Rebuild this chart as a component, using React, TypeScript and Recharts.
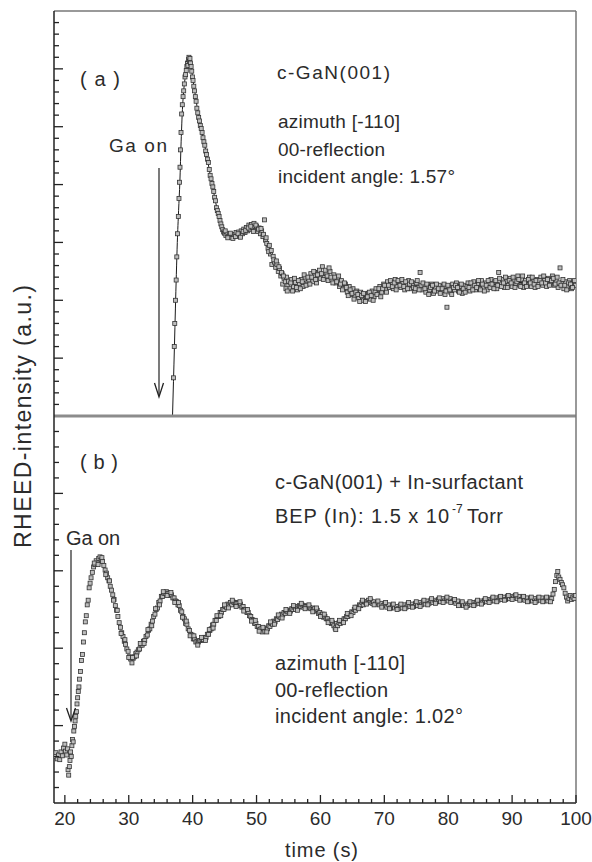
import React from "react";
import { ComposedChart, Scatter, Line, XAxis, YAxis } from "recharts";

// (a) c-GaN(001): measured RHEED points, [time (s), intensity (a.u.)]
const A_POINTS: [number, number][] = [
  [37.0, 0.66], [37.12, 1.2], [37.2, 1.6], [37.32, 2.0], [37.42, 2.35], [37.52, 2.75], [37.64, 3.15],
  [37.76, 3.45], [37.86, 3.76], [37.95, 4.04], [38.02, 4.3], [38.1, 4.6], [38.18, 4.9], [38.28, 5.22],
  [38.38, 5.38], [38.5, 5.52], [38.6, 5.62], [38.7, 5.74], [38.8, 5.86], [38.9, 5.9], [39.0, 5.97],
  [39.1, 6.04], [39.18, 6.1], [39.26, 6.06], [39.34, 6.16], [39.42, 6.2], [39.5, 6.13], [39.58, 6.18],
  [39.66, 6.1], [39.76, 6.04], [39.86, 5.96], [39.96, 5.86], [40.06, 5.8], [40.18, 5.7], [40.3, 5.62],
  [40.42, 5.52], [40.54, 5.44], [40.66, 5.32], [40.8, 5.24], [40.94, 5.16], [41.06, 5.1], [41.2, 5.02],
  [41.34, 4.97], [41.48, 4.9], [41.62, 4.81], [41.76, 4.74], [41.9, 4.68], [42.04, 4.58], [42.18, 4.52],
  [42.32, 4.44], [42.46, 4.38], [42.6, 4.26], [42.74, 4.16], [42.88, 4.1], [43.02, 4.02], [43.16, 3.96],
  [43.3, 3.88], [43.44, 3.78], [43.58, 3.72], [43.72, 3.6], [43.86, 3.55], [44.0, 3.5], [44.14, 3.45],
  [44.28, 3.38], [44.42, 3.32], [44.56, 3.27], [44.7, 3.22], [44.85, 3.18],
  [45.0, 3.16], [45.2, 3.12], [45.4, 3.15], [45.6, 3.1], [45.8, 3.13], [46.0, 3.09], [46.2, 3.14],
  [46.4, 3.1], [46.6, 3.13], [46.8, 3.17], [47.0, 3.11], [47.2, 3.18], [47.4, 3.13], [47.6, 3.2],
  [47.8, 3.15], [48.0, 3.23], [48.2, 3.17], [48.4, 3.26], [48.6, 3.2], [48.8, 3.3], [49.0, 3.22],
  [49.2, 3.31], [49.4, 3.25], [49.6, 3.33], [49.8, 3.21], [50.0, 3.28], [50.2, 3.19], [50.4, 3.25],
  [50.6, 3.15], [50.8, 3.2], [51.0, 3.1], [51.25, 3.39], [51.4, 3.04], [51.6, 2.98], [51.8, 2.9],
  [52.0, 2.95], [52.2, 2.8], [52.4, 2.62], [52.6, 2.76], [52.8, 2.66], [53.0, 2.57], [53.2, 2.62],
  [53.4, 2.5], [53.6, 2.55], [53.8, 2.42], [54.0, 2.46], [54.1, 2.28], [54.3, 2.38], [54.5, 2.32],
  [54.7, 2.4], [54.9, 2.25], [55.0, 2.33],
  [55.2, 2.2], [55.5, 2.36], [55.8, 2.24], [56.1, 2.31], [56.4, 2.18], [56.7, 2.29], [57.0, 2.36],
  [57.3, 2.24], [57.6, 2.4], [57.9, 2.28], [58.2, 2.35], [58.5, 2.46], [58.8, 2.32], [59.1, 2.42],
  [59.4, 2.3], [59.7, 2.48], [60.0, 2.38], [60.3, 2.58], [60.6, 2.4], [60.9, 2.46], [61.2, 2.34],
  [61.5, 2.5], [61.8, 2.36], [62.1, 2.44], [62.4, 2.3], [62.7, 2.38], [63.0, 2.24], [63.3, 2.34],
  [63.6, 2.2], [63.9, 2.28], [64.2, 2.14], [64.5, 2.24], [64.8, 2.1], [65.1, 2.2], [65.4, 2.08],
  [65.7, 2.16], [66.0, 2.04], [66.3, 2.14], [66.6, 2.0], [66.9, 2.1], [67.2, 2.04], [67.5, 2.12],
  [67.8, 2.02], [68.1, 2.16], [68.4, 2.06], [68.7, 2.2], [69.0, 2.12], [69.3, 2.24], [69.6, 2.14],
  [69.9, 2.28], [70.2, 2.18], [70.5, 2.32], [70.8, 2.22], [71.1, 2.3], [71.4, 2.2], [71.7, 2.36],
  [72.0, 2.24], [72.3, 2.32], [72.6, 2.22], [72.9, 2.3], [73.2, 2.18], [73.5, 2.28], [73.8, 2.34],
  [74.1, 2.2], [74.4, 2.26], [74.7, 2.16], [75.0, 2.3], [75.3, 2.22], [75.6, 2.48], [75.9, 2.18],
  [76.2, 2.26], [76.5, 2.14], [76.8, 2.24], [77.1, 2.18], [77.4, 2.28], [77.7, 2.12], [78.0, 2.22],
  [78.3, 2.16], [78.6, 2.26], [78.9, 2.14], [79.2, 2.24], [79.5, 2.1], [79.8, 1.88], [80.1, 2.22],
  [80.4, 2.14], [80.7, 2.28], [81.0, 2.18], [81.3, 2.3], [81.6, 2.16], [81.9, 2.24], [82.2, 2.12],
  [82.5, 2.26], [82.8, 2.18], [83.1, 2.3], [83.4, 2.16], [83.7, 2.24], [84.0, 2.32], [84.3, 2.18],
  [84.6, 2.28], [84.9, 2.2], [85.2, 2.34], [85.5, 2.22], [85.8, 2.3], [86.1, 2.18], [86.4, 2.28],
  [86.7, 2.36], [87.0, 2.24], [87.3, 2.32], [87.6, 2.2], [87.9, 2.48], [88.2, 2.28], [88.5, 2.36],
  [88.8, 2.22], [89.1, 2.32], [89.4, 2.26], [89.7, 2.38], [90.0, 2.24], [90.3, 2.34], [90.6, 2.28],
  [90.9, 2.42], [91.2, 2.26], [91.5, 2.36], [91.8, 2.22], [92.1, 2.34], [92.4, 2.26], [92.7, 2.4],
  [93.0, 2.24], [93.3, 2.32], [93.6, 2.22], [93.9, 2.36], [94.2, 2.28], [94.5, 2.4], [94.8, 2.26],
  [95.1, 2.34], [95.4, 2.24], [95.7, 2.38], [96.0, 2.3], [96.3, 2.42], [96.6, 2.26], [96.9, 2.34],
  [97.2, 2.22], [97.5, 2.56], [97.8, 2.3], [98.1, 2.2], [98.4, 2.32], [98.7, 2.24], [99.0, 2.34],
  [99.3, 2.2], [99.6, 2.3], [99.9, 2.26],
];

// (a) second row of points read between the ones above (the scatter band is about two markers thick)
const A_POINTS_2: [number, number][] = [
  [45.1, 3.2], [45.5, 3.08], [45.9, 3.16], [46.3, 3.07], [46.7, 3.1], [47.1, 3.15], [47.5, 3.09],
  [47.9, 3.19], [48.3, 3.21], [48.7, 3.25], [49.1, 3.28], [49.5, 3.19], [49.9, 3.3], [50.3, 3.23],
  [50.7, 3.24], [51.1, 3.14], [51.5, 3.08], [51.9, 2.84], [52.3, 2.86], [52.7, 2.7], [53.1, 2.68],
  [53.5, 2.58], [53.9, 2.48], [54.2, 2.42], [54.6, 2.2], [54.8, 2.16],
  [55.35, 2.3], [55.65, 2.16], [55.95, 2.38], [56.25, 2.22], [56.55, 2.34], [56.85, 2.2], [57.15, 2.32],
  [57.45, 2.44], [57.75, 2.26], [58.05, 2.4], [58.35, 2.28], [58.65, 2.4], [58.95, 2.5], [59.25, 2.36],
  [59.55, 2.44], [59.85, 2.52], [60.15, 2.46], [60.45, 2.36], [60.75, 2.52], [61.05, 2.42], [61.35, 2.56],
  [61.65, 2.4], [61.95, 2.3], [62.25, 2.4], [62.55, 2.32], [62.85, 2.42], [63.15, 2.28], [63.45, 2.18],
  [63.75, 2.3], [64.05, 2.22], [64.35, 2.08], [64.65, 2.18], [64.95, 2.12], [65.25, 2.02], [65.55, 2.14],
  [65.85, 2.1], [66.15, 1.98], [66.45, 2.08], [66.75, 2.12], [67.05, 1.98], [67.35, 2.06], [67.65, 2.14],
  [67.95, 2.08], [68.25, 2.0], [68.55, 2.14], [68.85, 2.1], [69.15, 2.2], [69.45, 2.06], [69.75, 2.2],
  [70.05, 2.26], [70.35, 2.14], [70.65, 2.26], [70.95, 2.34], [71.25, 2.24], [71.55, 2.3], [71.85, 2.18],
  [72.15, 2.34], [72.45, 2.26], [72.75, 2.36], [73.05, 2.24], [73.35, 2.32], [73.65, 2.2], [73.95, 2.28],
  [74.25, 2.32], [74.55, 2.22], [74.85, 2.2], [75.15, 2.34], [75.45, 2.18], [75.75, 2.26], [76.05, 2.3],
  [76.35, 2.2], [76.65, 2.28], [76.95, 2.1], [77.25, 2.22], [77.55, 2.26], [77.85, 2.16], [78.15, 2.28],
  [78.45, 2.2], [78.75, 2.12], [79.05, 2.2], [79.35, 2.28], [79.65, 2.16], [79.95, 2.26], [80.25, 2.18],
  [80.55, 2.1], [80.85, 2.22], [81.15, 2.26], [81.45, 2.22], [81.75, 2.14], [82.05, 2.28], [82.35, 2.2],
  [82.65, 2.14], [82.95, 2.24], [83.25, 2.22], [83.55, 2.3], [83.85, 2.18], [84.15, 2.26], [84.45, 2.22],
  [84.75, 2.34], [85.05, 2.18], [85.35, 2.28], [85.65, 2.16], [85.95, 2.26], [86.25, 2.34], [86.55, 2.22],
  [86.85, 2.28], [87.15, 2.2], [87.45, 2.34], [87.75, 2.26], [88.05, 2.38], [88.35, 2.24], [88.65, 2.3],
  [88.95, 2.4], [89.25, 2.22], [89.55, 2.34], [89.85, 2.3], [90.15, 2.4], [90.45, 2.22], [90.75, 2.32],
  [91.05, 2.36], [91.35, 2.24], [91.65, 2.42], [91.95, 2.3], [92.25, 2.24], [92.55, 2.36], [92.85, 2.3],
  [93.15, 2.4], [93.45, 2.28], [93.75, 2.34], [94.05, 2.24], [94.35, 2.34], [94.65, 2.3], [94.95, 2.42],
  [95.25, 2.3], [95.55, 2.36], [95.85, 2.26], [96.15, 2.34], [96.45, 2.38], [96.75, 2.28], [97.05, 2.4],
  [97.35, 2.3], [97.65, 2.26], [97.95, 2.36], [98.25, 2.26], [98.55, 2.18], [98.85, 2.3], [99.15, 2.28],
  [99.45, 2.22], [99.75, 2.34],
];

// (a) the smooth guide line through the points, starting on the axis where Ga is opened
const A_FIT: [number, number][] = [
  [36.85, 0], [37.0, 0.6], [37.15, 1.2], [37.3, 1.85], [37.45, 2.45], [37.6, 3.0], [37.8, 3.55],
  [38.0, 4.05], [38.2, 4.75], [38.4, 5.3], [38.6, 5.62], [38.9, 5.9], [39.2, 6.08], [39.45, 6.16],
  [39.7, 6.08], [40.0, 5.85], [40.4, 5.56], [40.9, 5.2], [41.5, 4.88], [42.1, 4.56], [42.7, 4.2],
  [43.3, 3.86], [43.9, 3.54], [44.5, 3.29], [45.2, 3.15], [46.0, 3.11], [47.0, 3.14], [48.0, 3.2],
  [49.0, 3.24], [50.0, 3.24], [50.8, 3.16], [51.5, 3.02], [52.2, 2.82], [53.0, 2.62], [53.8, 2.44],
  [54.6, 2.32], [55.5, 2.27], [57.0, 2.3], [58.5, 2.38], [60.0, 2.44], [61.5, 2.42], [63.0, 2.3],
  [64.5, 2.18], [66.0, 2.1], [67.5, 2.08], [69.0, 2.16], [70.5, 2.24], [72.0, 2.28], [74.0, 2.26],
  [76.0, 2.23], [78.0, 2.2], [80.0, 2.2], [82.0, 2.21], [84.0, 2.23], [86.0, 2.26], [88.0, 2.28],
  [90.0, 2.3], [92.0, 2.31], [94.0, 2.31], [96.0, 2.32], [98.0, 2.28], [100.0, 2.27],
];

// (b) c-GaN(001) + In-surfactant
const B_POINTS: [number, number][] = [
  [18.4, 0.6], [18.6, 0.65], [18.8, 0.57], [19.0, 0.62], [19.2, 0.56], [19.4, 0.66], [19.6, 0.61],
  [19.8, 0.71], [20.0, 0.76], [20.1, 0.67], [20.3, 0.62], [20.4, 0.7], [20.5, 0.43], [20.6, 0.36],
  [20.7, 0.47], [20.8, 0.55], [20.9, 0.66], [21.0, 0.6], [21.1, 0.74], [21.2, 0.82], [21.3, 0.79],
  [21.4, 0.93], [21.5, 0.99], [21.6, 1.06], [21.7, 1.12], [21.8, 1.18], [21.9, 1.28], [22.0, 1.36],
  [22.1, 1.44], [22.2, 1.5], [22.3, 1.6], [22.45, 1.7], [22.6, 1.84], [22.75, 1.92], [22.9, 2.08],
  [23.05, 2.2], [23.2, 2.34], [23.35, 2.42], [23.5, 2.56], [23.65, 2.62], [23.8, 2.78], [23.95, 2.84],
  [24.1, 2.91], [24.3, 2.98], [24.5, 3.05], [24.7, 3.08], [24.9, 3.13], [25.1, 3.1], [25.3, 3.16],
  [25.5, 3.18], [25.7, 3.14], [25.9, 3.12], [26.1, 3.07], [26.3, 3.01], [26.5, 2.97], [26.7, 2.91],
  [26.9, 2.87], [27.1, 2.8], [27.3, 2.75], [27.5, 2.69], [27.7, 2.63], [27.9, 2.55], [28.1, 2.49],
  [28.3, 2.41], [28.5, 2.33], [28.7, 2.27], [28.9, 2.2], [29.1, 2.15], [29.3, 2.09], [29.5, 2.05],
  [29.7, 1.99], [29.9, 1.96], [30.1, 1.89], [30.3, 1.86], [30.5, 1.81], [30.7, 1.87], [30.9, 1.89],
  [31.1, 1.93], [31.3, 1.95], [31.5, 1.98], [31.7, 1.99], [31.9, 2.04], [32.1, 2.04], [32.3, 2.09],
  [32.5, 2.1], [32.7, 2.15], [32.9, 2.17], [33.1, 2.23], [33.3, 2.25], [33.5, 2.31], [33.7, 2.35],
  [33.9, 2.41], [34.1, 2.44], [34.3, 2.5], [34.5, 2.52], [34.7, 2.59], [34.9, 2.61], [35.1, 2.67],
  [35.3, 2.67], [35.5, 2.71], [35.7, 2.71], [35.9, 2.73], [36.1, 2.71], [36.3, 2.71], [36.5, 2.68],
  [36.7, 2.69], [36.9, 2.65], [37.1, 2.65], [37.3, 2.61], [37.5, 2.6], [37.7, 2.56], [37.9, 2.55],
  [38.1, 2.49], [38.3, 2.47], [38.5, 2.41], [38.7, 2.38], [38.9, 2.32], [39.1, 2.31], [39.3, 2.25],
  [39.5, 2.23], [39.7, 2.18], [39.9, 2.17], [40.1, 2.12], [40.3, 2.12], [40.5, 2.08], [40.7, 2.09],
  [40.9, 2.08], [41.1, 2.1], [41.3, 2.1], [41.5, 2.11], [41.7, 2.11], [41.9, 2.14], [42.1, 2.14],
  [42.3, 2.18], [42.5, 2.18], [42.7, 2.23], [42.9, 2.25], [43.1, 2.3], [43.3, 2.31], [43.5, 2.36],
  [43.7, 2.36], [43.9, 2.41], [44.1, 2.41], [44.3, 2.46], [44.5, 2.46], [44.7, 2.5], [44.9, 2.5],
  [45.1, 2.54], [45.3, 2.53], [45.5, 2.57], [45.7, 2.56], [45.9, 2.59], [46.1, 2.56], [46.3, 2.6],
  [46.5, 2.59], [46.7, 2.59], [46.9, 2.58], [47.1, 2.58], [47.3, 2.55], [47.5, 2.57], [47.7, 2.53],
  [47.9, 2.54], [48.1, 2.5], [48.3, 2.5], [48.5, 2.46], [48.7, 2.46], [48.9, 2.42], [49.1, 2.41],
  [49.3, 2.37], [49.5, 2.36], [49.7, 2.32], [49.9, 2.32], [50.1, 2.28], [50.3, 2.28], [50.5, 2.24],
  [50.7, 2.25], [50.9, 2.21], [51.1, 2.25], [51.3, 2.22], [51.5, 2.26], [51.7, 2.25], [51.9, 2.29],
  [52.1, 2.28], [52.3, 2.32], [52.5, 2.31], [52.7, 2.35], [52.9, 2.34], [53.1, 2.38], [53.3, 2.37],
  [53.5, 2.41], [53.7, 2.4], [53.9, 2.44], [54.1, 2.43], [54.3, 2.46], [54.5, 2.45], [54.7, 2.48],
  [54.9, 2.47], [55.1, 2.49], [55.3, 2.48], [55.5, 2.51], [55.7, 2.5], [55.9, 2.53], [56.1, 2.5],
  [56.3, 2.54], [56.5, 2.52], [56.7, 2.55], [56.9, 2.54], [57.1, 2.56], [57.3, 2.53], [57.5, 2.55],
  [57.7, 2.54], [57.9, 2.54], [58.1, 2.52], [58.3, 2.53], [58.5, 2.51], [58.7, 2.52], [58.9, 2.5],
  [59.1, 2.51], [59.3, 2.48], [59.5, 2.49], [59.7, 2.45], [59.9, 2.46], [60.1, 2.43], [60.3, 2.44],
  [60.5, 2.4], [60.7, 2.41], [60.9, 2.38], [61.1, 2.38], [61.3, 2.35], [61.5, 2.35], [61.7, 2.32],
  [61.9, 2.33], [62.1, 2.29], [62.3, 2.26], [62.5, 2.32], [62.7, 2.29], [62.9, 2.33], [63.1, 2.32],
  [63.3, 2.35], [63.5, 2.35], [63.7, 2.38], [63.9, 2.38], [64.1, 2.41], [64.3, 2.41], [64.5, 2.44],
  [64.7, 2.44], [64.9, 2.47], [65.1, 2.46], [65.3, 2.5], [65.5, 2.49], [65.7, 2.53], [65.9, 2.52],
  [66.1, 2.56], [66.3, 2.55], [66.5, 2.59], [66.7, 2.56], [66.9, 2.6], [67.1, 2.59], [67.3, 2.6],
  [67.5, 2.62], [67.7, 2.59], [67.9, 2.61], [68.1, 2.58], [68.3, 2.6], [68.6, 2.57], [68.9, 2.59],
  [69.2, 2.56], [69.5, 2.58], [69.8, 2.55], [70.1, 2.57], [70.4, 2.53], [70.7, 2.56], [71.0, 2.52],
  [71.3, 2.55], [71.6, 2.52], [71.9, 2.54], [72.2, 2.51], [72.5, 2.55], [72.8, 2.52], [73.1, 2.56],
  [73.4, 2.53], [73.7, 2.57], [74.0, 2.54], [74.3, 2.57], [74.6, 2.54], [74.9, 2.58], [75.2, 2.55],
  [75.5, 2.59], [75.8, 2.56], [76.1, 2.6], [76.4, 2.57], [76.7, 2.61], [77.0, 2.58], [77.3, 2.62],
  [77.6, 2.59], [77.9, 2.62], [78.2, 2.6], [78.5, 2.63], [78.8, 2.6], [79.1, 2.64], [79.4, 2.61],
  [79.7, 2.64], [80.0, 2.61], [80.3, 2.64], [80.6, 2.6], [80.9, 2.62], [81.2, 2.58], [81.5, 2.61],
  [81.8, 2.56], [82.1, 2.58], [82.4, 2.55], [82.7, 2.57], [83.0, 2.55], [83.3, 2.58], [83.6, 2.56],
  [83.9, 2.59], [84.2, 2.57], [84.5, 2.6], [84.8, 2.58], [85.1, 2.61], [85.4, 2.59], [85.7, 2.62],
  [86.0, 2.6], [86.3, 2.63], [86.6, 2.61], [86.9, 2.64], [87.2, 2.61], [87.5, 2.65], [87.8, 2.62],
  [88.1, 2.66], [88.4, 2.63], [88.7, 2.66], [89.0, 2.63], [89.3, 2.67], [89.6, 2.64], [89.9, 2.67],
  [90.2, 2.65], [90.5, 2.68], [90.8, 2.64], [91.1, 2.67], [91.4, 2.63], [91.7, 2.66], [92.0, 2.62],
  [92.3, 2.65], [92.6, 2.61], [92.9, 2.64], [93.2, 2.61], [93.5, 2.64], [93.8, 2.61], [94.1, 2.65],
  [94.4, 2.62], [94.7, 2.65], [95.0, 2.61], [95.3, 2.64], [95.6, 2.61], [95.9, 2.65], [96.2, 2.64],
  [96.4, 2.7], [96.6, 2.76], [96.8, 2.86], [97.0, 2.94], [97.15, 2.99], [97.3, 2.92], [97.5, 2.89],
  [97.7, 2.85], [97.9, 2.82], [98.1, 2.78], [98.3, 2.71], [98.5, 2.66], [98.7, 2.61], [98.9, 2.64],
  [99.1, 2.68], [99.3, 2.63], [99.5, 2.66], [99.7, 2.64], [99.9, 2.68],
];

const B_POINTS_2: [number, number][] = [
  [24.6, 3.1], [25.2, 3.08], [25.8, 3.17], [26.4, 2.95], [27.0, 2.87], [27.6, 2.62], [28.2, 2.49],
  [28.8, 2.19], [29.4, 2.11], [30.0, 1.88], [30.6, 1.88], [31.2, 1.9], [31.8, 2.06], [32.4, 2.06],
  [33.0, 2.24], [33.6, 2.29], [34.2, 2.51], [34.8, 2.56], [35.4, 2.73], [36.0, 2.68], [36.6, 2.72],
  [37.2, 2.59], [37.8, 2.59], [38.4, 2.4], [39.0, 2.35], [39.6, 2.16], [40.2, 2.16], [40.8, 2.04],
  [41.4, 2.14], [42.0, 2.1], [42.6, 2.24], [43.2, 2.26], [43.8, 2.42], [44.4, 2.42], [45.0, 2.56],
  [45.6, 2.52], [46.2, 2.62], [46.8, 2.54], [47.4, 2.6], [48.0, 2.48], [48.6, 2.5], [49.2, 2.35],
  [49.8, 2.36], [50.4, 2.22], [51.0, 2.27], [51.6, 2.21], [52.2, 2.34], [52.8, 2.31], [53.4, 2.43],
  [54.0, 2.39], [54.6, 2.5], [55.2, 2.45], [55.8, 2.55], [56.4, 2.49], [57.0, 2.58], [57.6, 2.51],
  [58.2, 2.56], [58.8, 2.47], [59.4, 2.52], [60.0, 2.41], [60.6, 2.44], [61.2, 2.33], [61.8, 2.36],
  [62.4, 2.24], [63.0, 2.36], [63.6, 2.33], [64.2, 2.45], [64.8, 2.42], [65.4, 2.53], [66.0, 2.51],
  [66.6, 2.62], [67.2, 2.57], [67.8, 2.64], [68.4, 2.56], [69.0, 2.61], [69.6, 2.53], [70.2, 2.59],
  [70.8, 2.51], [71.4, 2.57], [72.0, 2.5], [72.6, 2.57], [73.2, 2.51], [73.8, 2.59], [74.4, 2.53],
  [75.0, 2.6], [75.6, 2.54], [76.2, 2.62], [76.8, 2.56], [77.4, 2.64], [78.0, 2.58], [78.6, 2.65],
  [79.2, 2.59], [79.8, 2.66], [80.4, 2.59], [81.0, 2.63], [81.6, 2.55], [82.2, 2.6], [82.8, 2.53],
  [83.4, 2.6], [84.0, 2.55], [84.6, 2.62], [85.2, 2.57], [85.8, 2.64], [86.4, 2.59], [87.0, 2.66],
  [87.6, 2.6], [88.2, 2.67], [88.8, 2.62], [89.4, 2.68], [90.0, 2.63], [90.6, 2.69], [91.2, 2.62],
  [91.8, 2.67], [92.4, 2.6], [93.0, 2.66], [93.6, 2.59], [94.2, 2.66], [94.8, 2.6], [95.4, 2.66],
  [96.0, 2.6],
];

const X_DOMAIN: [number, number] = [18.3, 100];
const X_LABELS = [20, 30, 40, 50, 60, 70, 80, 90, 100];
const A_Y_MAX = 7;
const B_Y_MAX = 5;

// minor ticks: every 2 s on x, every 0.2 on y (long tick on the whole units)
const X_TICKS = Array.from({ length: 41 }, (_, i) => 20 + i * 2);
const yTicks = (max: number) =>
  Array.from({ length: max * 5 - 1 }, (_, i) => Math.round((i + 1) * 2) / 10);

const toRows = (pts: [number, number][]) => pts.map(([t, v]) => ({ t, v }));
const A_ROWS = toRows([...A_POINTS, ...A_POINTS_2]);
const A_FIT_ROWS = toRows(A_FIT);
const B_ROWS = toRows([...B_POINTS, ...B_POINTS_2]);

const FONT = "'Liberation Sans', Arial, Helvetica, sans-serif";
const INK = "#2b2b2b";
const AXIS = "#222";
const FRAME = "#777";

const LeftTick = (props: any) => {
  const { x, y, payload } = props;
  const major = Math.abs(payload.value - Math.round(payload.value)) < 1e-6;
  return <line x1={x} x2={x + (major ? 9 : 5)} y1={y} y2={y} stroke={AXIS} strokeWidth={1.3} />;
};

const BottomTick = (props: any) => {
  const { x, y, payload } = props;
  const major = X_LABELS.includes(payload.value);
  return (
    <g>
      <line x1={x} x2={x} y1={y} y2={y - (major ? 8 : 4)} stroke={AXIS} strokeWidth={1.3} />
      {major && (
        <text x={x} y={y + 22} textAnchor="middle" fontSize={19} fontFamily={FONT} fill={INK}>
          {payload.value}
        </text>
      )}
    </g>
  );
};

const Marker = (props: any) => {
  const { cx, cy } = props;
  if (cx == null || cy == null) return <g />;
  return (
    <rect x={cx - 2} y={cy - 2} width={4} height={4} fill="#bdbdbd" stroke="#333" strokeWidth={0.8} />
  );
};

function PanelA() {
  return (
    <ComposedChart width={592} height={420} margin={{ top: 10, right: 15, bottom: 3, left: 53 }}>
      <XAxis
        xAxisId="x"
        type="number"
        dataKey="t"
        domain={X_DOMAIN}
        allowDataOverflow
        height={1}
        tick={false}
        tickLine={false}
        axisLine={{ stroke: "#8c8c8c", strokeWidth: 3 }}
      />
      <XAxis
        xAxisId="top"
        orientation="top"
        type="number"
        domain={[0, 1]}
        height={1}
        tick={false}
        tickLine={false}
        axisLine={{ stroke: FRAME, strokeWidth: 1.5 }}
      />
      <YAxis
        yAxisId="y"
        type="number"
        dataKey="v"
        domain={[0, A_Y_MAX]}
        allowDataOverflow
        ticks={yTicks(A_Y_MAX)}
        interval={0}
        width={1}
        tickSize={0}
        tickMargin={0}
        tickLine={false}
        tick={LeftTick}
        axisLine={{ stroke: AXIS, strokeWidth: 1.5 }}
      />
      <YAxis
        yAxisId="r"
        orientation="right"
        type="number"
        domain={[0, 1]}
        width={1}
        tick={false}
        tickLine={false}
        axisLine={{ stroke: FRAME, strokeWidth: 1.5 }}
      />
      <Line
        xAxisId="x"
        yAxisId="y"
        data={A_FIT_ROWS}
        dataKey="v"
        type="monotone"
        dot={false}
        stroke="#1a1a1a"
        strokeWidth={1}
        isAnimationActive={false}
      />
      <Scatter xAxisId="x" yAxisId="y" data={A_ROWS} dataKey="v" shape={Marker} isAnimationActive={false} />
    </ComposedChart>
  );
}

function PanelB() {
  return (
    <ComposedChart width={592} height={446} margin={{ top: 0, right: 15, bottom: 0, left: 53 }}>
      <XAxis
        xAxisId="x"
        type="number"
        dataKey="t"
        domain={X_DOMAIN}
        allowDataOverflow
        ticks={X_TICKS}
        interval={0}
        height={59}
        tickSize={0}
        tickMargin={0}
        tickLine={false}
        tick={BottomTick}
        axisLine={{ stroke: AXIS, strokeWidth: 1.5 }}
      />
      <YAxis
        yAxisId="y"
        type="number"
        dataKey="v"
        domain={[0, B_Y_MAX]}
        allowDataOverflow
        ticks={yTicks(B_Y_MAX)}
        interval={0}
        width={1}
        tickSize={0}
        tickMargin={0}
        tickLine={false}
        tick={LeftTick}
        axisLine={{ stroke: AXIS, strokeWidth: 1.5 }}
      />
      <YAxis
        yAxisId="r"
        orientation="right"
        type="number"
        domain={[0, 1]}
        width={1}
        tick={false}
        tickLine={false}
        axisLine={{ stroke: FRAME, strokeWidth: 1.5 }}
      />
      <Scatter xAxisId="x" yAxisId="y" data={B_ROWS} dataKey="v" shape={Marker} isAnimationActive={false} />
    </ComposedChart>
  );
}

// texts and "Ga on" arrows, placed over both panels
function Annotations() {
  const label = (x: number, y: number, s: string, len: number, size = 19) => (
    <text x={x} y={y} fontSize={size} textLength={len} lengthAdjust="spacing" fill={INK}>
      {s}
    </text>
  );
  return (
    <svg
      width={592}
      height={862}
      style={{ position: "absolute", left: 0, top: 0, pointerEvents: "none" }}
      fontFamily={FONT}
    >
      <text
        transform="translate(31,416.5) rotate(-90)"
        textAnchor="middle"
        fontSize={23}
        textLength={263}
        lengthAdjust="spacing"
        fill={INK}
      >
        RHEED-intensity (a.u.)
      </text>
      <text x={321.5} y={857} textAnchor="middle" fontSize={20} textLength={73} lengthAdjust="spacing" fill={INK}>
        time (s)
      </text>

      {label(80, 86, "( a )", 40, 20)}
      {label(277, 79, "c-GaN(001)", 113)}
      {label(278, 128, "azimuth [-110]", 122)}
      {label(278, 156, "00-reflection", 107)}
      {label(278, 183, "incident angle: 1.57°", 177)}
      {label(109, 152, "Ga on", 58)}
      <line x1={159} x2={159} y1={168} y2={396} stroke={AXIS} strokeWidth={1.2} />
      <polyline points="154.5,383 159,397 163.5,383" fill="none" stroke={AXIS} strokeWidth={1.3} />

      {label(80, 469, "( b )", 38, 20)}
      {label(66, 545, "Ga on", 54, 20)}
      {label(275, 489, "c-GaN(001) + In-surfactant", 248, 20)}
      {label(275, 523, "BEP (In): 1.5 x 10", 174, 20)}
      <text x={452} y={513} fontSize={12} fill={INK}>-7</text>
      {label(467, 523, "Torr", 36, 20)}
      {label(275, 670, "azimuth [-110]", 130, 20)}
      {label(275, 697, "00-reflection", 113, 20)}
      {label(275, 723, "incident angle: 1.02°", 188, 20)}
      <line x1={71} x2={71} y1={550} y2={719} stroke={AXIS} strokeWidth={1.2} />
      <polyline points="66.5,708 71,721 75.5,708" fill="none" stroke={AXIS} strokeWidth={1.3} />
    </svg>
  );
}

export default function App() {
  return (
    <div
      style={{
        position: "absolute",
        left: 0,
        top: 0,
        width: 592,
        height: 862,
        background: "#fff",
        overflow: "hidden",
        fontFamily: FONT,
      }}
    >
      <div style={{ position: "absolute", left: 0, top: 0 }}>
        <PanelA />
      </div>
      <div style={{ position: "absolute", left: 0, top: 416 }}>
        <PanelB />
      </div>
      <Annotations />
    </div>
  );
}
